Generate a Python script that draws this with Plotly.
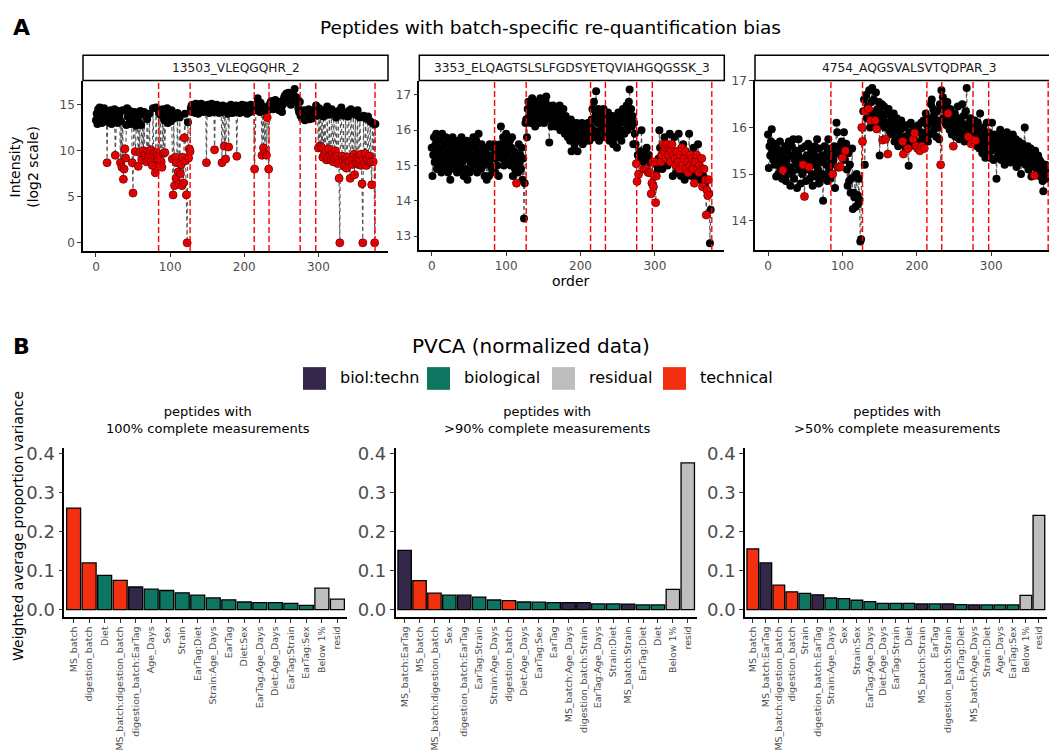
import plotly.graph_objects as go

W, H = 1049, 751
def fx(px): return px / W
def fy(py): return 1 - py / H

# ---------------- Panel A data ----------------
peptides = ["13503_VLEQGQHR_2", "3353_ELQAGTSLSLFGDSYETQVIAHGQGSSK_3", "4754_AQGSVALSVTQDPAR_3"]
batch_boundaries = [84.5, 127, 213.5, 233.5, 275.5, 296.5, 376.5]

pep1_intensity = [
    13.3, 14.0, 12.9, 14.5, 13.8, 14.7, 13.5, 14.2, 13.0, 14.4,
    13.9, 14.6, 13.2, 14.1, 13.7, 8.7, 14.3, 13.1, 14.0, 13.6,
    14.4, 12.9, 13.8, 14.2, 13.4, 14.5, 9.5, 13.9, 14.1, 13.0,
    14.3, 13.6, 14.0, 8.7, 13.2, 8.2, 14.4, 6.9, 8.0, 10.2,
    9.2, 12.8, 14.6, 13.7, 14.1, 13.0, 14.3, 12.9, 13.6, 8.7,
    5.4, 13.8, 14.2, 9.9, 12.7, 13.5, 14.0, 8.3, 13.1, 9.8,
    14.3, 12.8, 9.0, 13.9, 10.0, 14.2, 9.5, 9.7, 8.8, 13.4,
    9.9, 9.2, 14.0, 9.6, 10.1, 8.9, 8.4, 14.6, 9.5, 9.8,
    7.6, 14.7, 9.8, 9.3, 9.0, 14.1, 8.4, 13.9, 8.8, 8.2,
    14.5, 9.7, 13.3, 9.8, 14.2, 13.6, 14.6, 13.0, 14.3, 13.8,
    14.0, 13.2, 14.4, 9.1, 5.2, 13.5, 6.2, 9.3, 7.0, 8.7,
    14.1, 7.7, 6.4, 13.6, 7.5, 8.5, 6.2, 9.3, 6.5, 11.4,
    14.0, 8.9, 5.2, 0.0, 13.1, 9.2, 10.2, 9.9, 14.6, 14.9,
    14.2, 15.0, 14.5, 14.8, 14.1, 15.1, 14.4, 14.7, 14.0, 14.9,
    14.6, 14.3, 15.1, 14.5, 14.8, 14.2, 14.9, 14.4, 14.7, 8.7,
    14.3, 15.0, 14.6, 14.1, 14.8, 14.4, 15.1, 14.5, 14.2, 14.9,
    10.1, 14.6, 14.3, 15.0, 14.4, 14.7, 14.1, 14.8, 14.5, 14.2,
    8.7, 14.9, 14.3, 10.5, 14.6, 9.1, 14.4, 14.8, 14.0, 10.4,
    14.7, 14.3, 15.0, 14.5, 14.1, 14.8, 14.4, 14.6, 14.2, 14.9,
    9.4, 14.5, 14.3, 14.8, 14.1, 14.6, 14.4, 15.0, 14.2, 14.7,
    14.5, 14.3, 14.9, 14.6, 14.0, 14.8, 14.4, 14.7, 14.2, 15.0,
    14.5, 14.3, 14.8, 14.6, 8.0, 14.4, 15.0, 14.7, 15.7, 14.5,
    14.9, 14.2, 15.2, 14.6, 9.5, 14.8, 10.3, 14.3, 9.7, 14.7,
    9.5, 13.6, 14.4, 8.0, 15.0, 14.6, 15.3, 14.8, 15.4, 14.5,
    15.1, 14.7, 15.5, 14.9, 15.2, 14.6, 15.0, 14.4, 14.8, 15.3,
    14.7, 14.2, 15.0, 15.5, 15.8, 16.0, 15.6, 16.2, 15.4, 15.9,
    16.3, 15.2, 15.7, 15.0, 15.9, 16.1, 15.5, 16.0, 16.7, 15.3,
    15.8, 15.4, 15.6, 14.6, 14.2, 15.3, 13.8, 14.3, 13.5, 14.1,
    13.7, 14.4, 13.3, 14.0, 13.6, 14.2, 13.9, 14.5, 13.4, 14.1,
    13.8, 14.3, 13.5, 14.0, 13.7, 14.4, 14.1, 14.9, 14.3, 13.8,
    10.3, 14.6, 10.5, 14.0, 10.4, 14.4, 9.3, 13.7, 9.6, 14.2,
    9.8, 9.0, 14.8, 9.2, 10.2, 13.9, 9.5, 9.0, 14.5, 9.7,
    8.8, 14.1, 9.2, 10.0, 13.6, 9.4, 8.6, 14.3, 7.0, 0.0,
    14.2, 14.7, 9.4, 9.0, 13.8, 8.3, 9.1, 14.0, 8.1, 9.3,
    13.7, 14.3, 8.8, 7.0, 14.5, 9.0, 8.5, 14.1, 9.6, 7.4,
    13.9, 8.7, 9.3, 14.4, 8.5, 9.1, 13.6, 9.6, 8.4, 6.4,
    0.0, 13.8, 8.6, 9.7, 13.5, 8.4, 9.1, 13.7, 8.7, 9.4,
    13.2, 8.8, 6.3, 13.0, 8.8, 12.9, 0.0, 12.9,
]
pep1_requant = [
    15, 26, 33, 35, 37, 38, 39, 40, 49, 50, 53, 57, 59, 62, 64, 66, 67, 68,
    70, 71, 73, 74, 75, 76, 78, 79, 80, 82, 83, 84, 86, 88, 89, 91, 93,
    103, 104, 106, 107, 108, 109, 111, 112, 114, 115, 116, 117, 118, 119,
    121, 122, 123, 125, 126, 127, 149, 160, 170, 173, 175, 179, 190,
    214, 224, 226, 228, 230, 231, 233,
    300, 302, 304, 306, 308, 310, 311, 313, 314, 316, 317, 319, 320, 322,
    323, 325, 326, 328, 329, 332, 333, 335, 336, 338, 339, 342, 343, 345,
    346, 348, 349, 351, 352, 354, 355, 357, 358, 359, 360, 362, 363, 365,
    366, 368, 369, 371, 372, 374, 376,
]

pep2_intensity = [
    15.5, 14.7, 15.3, 15.8, 15.1, 15.6, 15.9, 14.9, 15.4, 15.2,
    15.7, 15.0, 15.5, 14.8, 15.9, 15.3, 15.1, 15.6, 14.9, 15.8,
    15.2, 15.4, 14.8, 15.7, 15.0, 14.6, 15.5, 15.3, 15.8, 15.1,
    14.9, 15.6, 15.2, 15.4, 14.8, 15.7, 15.0, 15.5, 15.3, 14.9,
    15.8, 15.1, 15.6, 14.7, 15.2, 15.4, 14.9, 15.7, 14.6, 15.3,
    15.5, 14.8, 15.1, 15.6, 15.3, 14.9, 15.8, 15.2, 15.5, 15.0,
    15.7, 14.8, 15.4, 15.9, 15.1, 15.3, 14.9, 15.6, 15.2, 15.0,
    15.4, 14.7, 15.2, 15.5, 14.6, 15.1, 15.3, 14.7, 15.6, 15.0,
    15.2, 14.9, 15.5, 15.3, 15.6, 14.8, 15.2, 15.4, 15.0, 15.5,
    14.7, 15.3, 15.6, 16.1, 15.4, 15.2, 15.8, 15.0, 15.5, 15.7,
    15.9, 15.3, 15.6, 15.1, 15.4, 15.7, 15.0, 15.5, 15.8, 14.7,
    15.2, 15.4, 14.9, 15.0, 14.5, 15.3, 14.8, 15.6, 15.1, 15.3,
    14.9, 15.5, 14.6, 15.2, 13.5, 14.5, 16.2, 16.3, 15.8, 16.6,
    16.8, 16.4, 16.7, 16.2, 16.6, 16.9, 16.3, 16.5, 16.7, 16.1,
    16.4, 16.8, 16.3, 16.6, 16.2, 16.5, 16.9, 16.4, 16.7, 16.3,
    16.6, 16.2, 16.5, 16.8, 16.95, 16.4, 16.7, 16.3, 15.65, 16.5,
    16.6, 16.1, 16.4, 16.7, 16.2, 16.5, 16.3, 16.1, 16.6, 16.4,
    16.2, 16.5, 16.7, 16.0, 16.3, 16.4, 16.1, 16.6, 16.2, 15.9,
    16.4, 16.1, 16.3, 15.8, 16.2, 16.0, 15.7, 16.3, 15.4, 16.1,
    15.9, 16.2, 15.6, 16.0, 15.8, 16.2, 15.4, 16.1, 15.9, 15.7,
    16.1, 15.8, 16.2, 15.6, 16.0, 15.9, 16.1, 15.7, 16.0, 15.8,
    16.2, 15.9, 15.7, 16.1, 15.9, 16.3, 16.6, 16.0, 16.8, 15.8,
    16.4, 17.1, 15.9, 16.2, 16.6, 15.7, 16.3, 16.0, 16.5, 15.8,
    16.2, 16.6, 15.9, 16.1, 16.4, 15.8, 16.2, 16.5, 16.0, 15.7,
    16.3, 16.1, 15.9, 16.4, 15.6, 16.2, 16.0, 15.8, 16.3, 15.5,
    16.1, 16.5, 15.9, 16.2, 16.4, 15.7, 16.0, 16.6, 16.3, 15.9,
    16.5, 16.2, 16.7, 16.0, 16.4, 16.8, 17.15, 16.3, 16.6, 16.1,
    16.4, 15.6, 16.2, 15.9, 15.6, 15.05, 14.55, 15.3, 14.75, 15.2,
    15.4, 15.2, 16.0, 15.3, 15.1, 14.9, 15.2, 15.4, 14.9, 15.5,
    15.2, 14.8, 15.3, 14.8, 15.1, 14.2, 14.5, 15.1, 14.4, 14.7,
    15.1, 13.95, 14.7, 15.0, 14.9, 15.2, 16.0, 15.5, 15.1, 15.3,
    14.9, 15.6, 15.4, 15.8, 15.5, 15.2, 15.6, 15.0, 15.3, 15.5,
    15.9, 15.1, 15.4, 15.6, 14.7, 15.3, 15.8, 15.2, 15.0, 14.8,
    15.4, 15.1, 15.9, 14.9, 15.3, 14.7, 15.5, 15.0, 15.6, 15.2,
    14.6, 15.4, 14.9, 15.3, 15.1, 14.8, 15.9, 15.0, 15.3, 14.7,
    15.2, 14.9, 15.5, 14.5, 15.1, 14.7, 15.3, 14.9, 15.6, 14.8,
    15.0, 14.6, 14.9, 15.2, 14.4, 14.7, 14.9, 14.5, 14.6, 13.6,
    14.3, 14.15, 14.6, 14.2, 12.8, 13.75,
]
pep2_requant = [
    114, 275, 276, 278, 285, 288, 291, 293, 295, 296, 297, 298, 299, 300,
    301, 302, 308, 309, 311, 312, 314, 315, 316, 318, 319, 321, 322, 323,
    325, 327, 328, 330, 331, 333, 334, 336, 337, 339, 341, 342, 344, 345,
    347, 348, 350, 351, 353, 354, 356, 357, 359, 360, 362, 363, 364, 366,
    368, 369, 370, 371, 372,
]

pep3_intensity = [
    15.85, 15.13, 15.6, 15.4, 15.7, 15.96, 15.5, 15.3, 15.65, 15.2,
    15.4, 14.95, 15.55, 15.25, 15.0, 15.5, 15.7, 15.1, 15.35, 14.9,
    15.08, 15.45, 15.2, 15.6, 14.85, 15.3, 15.5, 15.0, 15.7, 15.15,
    14.75, 15.4, 15.6, 15.05, 15.75, 14.9, 15.3, 15.5, 15.2, 14.7,
    15.45, 15.75, 15.1, 15.35, 14.8, 15.55, 15.0, 15.2, 15.3, 14.52,
    15.6, 14.85, 15.4, 15.1, 15.65, 15.15, 14.9, 15.3, 15.5, 15.0,
    14.75, 15.45, 15.2, 15.6, 14.95, 15.35, 15.75, 15.1, 14.8, 15.55,
    15.25, 14.9, 15.4, 15.0, 14.43, 15.3, 15.6, 14.95, 15.2, 15.45,
    14.85, 15.75, 15.1, 15.35, 14.9, 15.55, 15.2, 15.0, 15.3, 15.6,
    14.7, 15.45, 16.1, 15.9, 15.15, 15.15, 15.6, 15.15, 15.4, 15.7,
    15.35, 15.5, 15.9, 15.3, 15.5, 15.65, 15.1, 14.75, 15.45, 14.85,
    15.2, 14.6, 14.9, 15.55, 14.25, 14.6, 14.5, 14.95, 14.3, 15.0,
    14.55, 14.35, 14.9, 14.45, 13.55, 13.6, 16.0, 15.7, 16.35, 16.6,
    15.2, 16.35, 16.7, 16.2, 16.45, 16.4, 16.8, 16.0, 16.15, 16.55,
    16.85, 16.3, 16.6, 16.1, 16.15, 16.75, 15.97, 16.4, 16.2, 16.55,
    15.4, 16.3, 16.05, 16.5, 15.73, 16.2, 16.45, 16.0, 15.75, 16.3,
    16.1, 15.43, 16.4, 16.0, 15.9, 16.25, 15.85, 16.15, 15.95, 16.3,
    15.7, 16.05, 15.85, 16.2, 15.9, 15.6, 16.1, 15.8, 15.95, 16.15,
    15.75, 15.7, 15.43, 16.0, 15.8, 15.55, 16.05, 15.65, 15.55, 15.18,
    15.9, 15.6, 16.1, 15.75, 15.85, 15.75, 16.0, 15.88, 15.65, 15.6,
    15.95, 15.55, 16.05, 15.7, 15.5, 15.9, 16.1, 15.6, 15.8, 16.15,
    15.55, 15.75, 16.3, 15.9, 16.05, 15.7, 16.2, 15.85, 16.1, 16.5,
    16.6, 16.2, 16.4, 15.95, 16.3, 16.1, 15.8, 16.35, 16.0, 16.15,
    15.75, 16.5, 15.2, 16.8, 16.4, 16.65, 16.2, 16.5, 16.1, 16.35,
    16.05, 16.55, 16.3, 16.2, 15.95, 16.4, 16.1, 15.85, 16.25, 15.6,
    16.0, 16.3, 15.8, 16.15, 15.9, 16.45, 16.05, 15.75, 16.2, 15.95,
    16.1, 16.5, 15.85, 16.25, 15.7, 16.0, 16.35, 16.85, 15.9, 15.8,
    16.1, 15.75, 16.2, 15.65, 15.9, 16.0, 15.7, 15.85, 16.15, 15.72,
    15.95, 15.6, 16.1, 15.8, 15.55, 16.3, 15.7, 15.9, 15.45, 16.0,
    15.6, 15.85, 15.35, 15.75, 16.1, 15.5, 15.9, 15.65, 15.35, 15.8,
    15.5, 16.1, 15.7, 15.3, 15.85, 15.55, 15.75, 14.9, 15.65, 15.4,
    15.8, 15.5, 15.95, 15.3, 15.7, 15.6, 15.85, 15.45, 15.2, 15.75,
    15.55, 15.9, 15.35, 15.7, 15.5, 15.8, 15.25, 15.6, 15.45, 15.85,
    15.3, 15.65, 15.5, 15.75, 15.15, 15.55, 15.4, 15.7, 15.25, 15.6,
    15.0, 15.45, 15.65, 15.3, 15.55, 16.0, 15.2, 15.5, 15.35, 15.6,
    15.1, 15.45, 15.25, 15.55, 14.95, 15.4, 15.3, 15.15, 14.97, 15.5,
    15.2, 15.35, 15.05, 15.4, 15.15, 15.3, 14.95, 15.25, 15.1, 14.85,
    14.63, 15.15, 15.0, 15.2, 14.9, 15.1, 15.05, 15.15,
]
pep3_requant = [
    20, 47, 49, 55, 87, 94, 95, 97, 100, 104, 126, 127, 131, 135, 138, 144,
    146, 154, 158, 161, 181, 182, 188, 195, 197, 199, 201, 204, 207, 210,
    232, 242, 249, 269, 273, 279, 358,
]

# ---------------- Panel B data ----------------
group_colors = {"biol:techn": "#33284A", "biological": "#0E7560",
                "residual": "#BEBEBE", "technical": "#F2300F"}

pvca100_effects = ["MS_batch", "digestion_batch", "Diet", "MS_batch:digestion_batch",
                   "digestion_batch:EarTag", "Age_Days", "Sex", "Strain", "EarTag:Diet",
                   "Strain:Age_Days", "EarTag", "Diet:Sex", "EarTag:Age_Days",
                   "Diet:Age_Days", "EarTag:Strain", "EarTag:Sex", "Below 1%", "resid"]
pvca100_values = [0.261, 0.120, 0.088, 0.075, 0.058, 0.0525, 0.049, 0.043, 0.037,
                  0.030, 0.025, 0.0195, 0.018, 0.018, 0.016, 0.011, 0.055, 0.027]
pvca100_groups = ["technical", "technical", "biological", "technical", "biol:techn",
                  "biological", "biological", "biological", "biological", "biological",
                  "biological", "biological", "biological", "biological", "biological",
                  "biological", "residual", "residual"]

pvca90_effects = ["MS_batch:EarTag", "MS_batch", "MS_batch:digestion_batch", "Sex",
                  "digestion_batch:EarTag", "EarTag:Strain", "Strain:Age_Days",
                  "digestion_batch", "Diet:Age_Days", "EarTag:Sex", "EarTag",
                  "MS_batch:Age_Days", "digestion_batch:Strain", "EarTag:Age_Days",
                  "Strain:Diet", "MS_batch:Strain", "EarTag:Diet", "Diet", "Below 1%", "resid"]
pvca90_values = [0.152, 0.0746, 0.042, 0.037, 0.037, 0.032, 0.0246, 0.023, 0.0195,
                 0.019, 0.018, 0.018, 0.018, 0.0145, 0.0145, 0.014, 0.012, 0.012,
                 0.052, 0.377]
pvca90_groups = ["biol:techn", "technical", "technical", "biological", "biol:techn",
                 "biological", "biological", "technical", "biological", "biological",
                 "biological", "biol:techn", "biol:techn", "biological", "biological",
                 "biol:techn", "biological", "biological", "residual", "residual"]

pvca50_effects = ["MS_batch", "MS_batch:EarTag", "MS_batch:digestion_batch",
                  "digestion_batch", "Strain", "digestion_batch:EarTag", "Strain:Age_Days",
                  "Sex", "Strain:Sex", "EarTag:Age_Days", "Diet:Age_Days", "EarTag:Strain",
                  "Diet", "MS_batch:Strain", "EarTag", "digestion_batch:Strain",
                  "EarTag:Diet", "MS_batch:Age_Days", "Strain:Diet", "Age_Days",
                  "EarTag:Sex", "Below 1%", "resid"]
pvca50_values = [0.156, 0.120, 0.0627, 0.0457, 0.0416, 0.038, 0.0297, 0.028, 0.024,
                 0.0203, 0.016, 0.016, 0.016, 0.0145, 0.0145, 0.0145, 0.0127, 0.012,
                 0.012, 0.012, 0.012, 0.0365, 0.242]
pvca50_groups = ["technical", "biol:techn", "technical", "technical", "biological",
                 "biol:techn", "biological", "biological", "biological", "biological",
                 "biological", "biological", "biological", "biol:techn", "biological",
                 "biol:techn", "biological", "biol:techn", "biological", "biological",
                 "biological", "residual", "residual"]

pvca_titles = ["peptides with<br>100% complete measurements",
               "peptides with<br>>90% complete measurements",
               "peptides with<br>>50% complete measurements"]
legend_groups = ["biol:techn", "biological", "residual", "technical"]

# ---------------- Figure ----------------
fig = go.Figure()
FONT = "DejaVu Sans"
TICKGREY = "#4D4D4D"

a_panels = [
    (pep1_intensity, pep1_requant, "x", "y"),
    (pep2_intensity, pep2_requant, "x2", "y2"),
    (pep3_intensity, pep3_requant, "x3", "y3"),
]
for vals, req, xa, ya in a_panels:
    orders = list(range(len(vals)))
    reqset = set(req)
    fig.add_trace(go.Scatter(x=orders, y=vals, mode="lines", xaxis=xa, yaxis=ya,
                             line=dict(color="#555555", width=1.1, dash="4px,3px"),
                             showlegend=False, hoverinfo="skip"))
    bx = [o for o in orders if o not in reqset]
    fig.add_trace(go.Scatter(x=bx, y=[vals[o] for o in bx], mode="markers",
                             xaxis=xa, yaxis=ya, showlegend=False,
                             marker=dict(color="black", size=8, line=dict(width=0))))
    rx = [o for o in orders if o in reqset]
    ry = [vals[o] for o in rx]
    fig.add_trace(go.Scatter(x=rx, y=ry, mode="markers",
                             xaxis=xa, yaxis=ya, showlegend=False,
                             marker=dict(color="#FF0000", size=8,
                                         line=dict(color="#5A0000", width=0.8))))
    fig.add_trace(go.Scatter(x=rx, y=ry, mode="markers",
                             xaxis=xa, yaxis=ya, showlegend=False, hoverinfo="skip",
                             marker=dict(symbol="asterisk-open", size=5, color="#B80000",
                                         line=dict(color="#B80000", width=0.6))))

b_panels = [
    (pvca100_effects, pvca100_values, pvca100_groups, "x4", "y4"),
    (pvca90_effects, pvca90_values, pvca90_groups, "x5", "y5"),
    (pvca50_effects, pvca50_values, pvca50_groups, "x6", "y6"),
]
for eff, vals, grp, xa, ya in b_panels:
    fig.add_trace(go.Bar(x=eff, y=vals, xaxis=xa, yaxis=ya, width=0.9,
                         marker=dict(color=[group_colors[g] for g in grp],
                                     line=dict(color="black", width=1.3)),
                         showlegend=False))

axis_common = dict(showline=True, linecolor="black", linewidth=1.6, ticks="outside",
                   ticklen=4, tickwidth=1.2, tickcolor="#333333", showgrid=False,
                   zeroline=False, mirror=False)

a_geom = [  # (x0px, x1px, y0px, y1px, xrange, yrange, yticks)
    (83, 388, 75.7, 248.3, [-17.5, 394], [-0.89, 17.6], [0, 5, 10, 15]),
    (419.3, 724.3, 76, 247.3, [-16.7, 393.3], [12.61, 17.39], [13, 14, 15, 16, 17]),
    (755, 1049, 75, 247.3, [-17.5, 377.6], [13.37, 17.02], [14, 15, 16, 17]),
]
layout = {}
for i, (x0, x1, y0, y1, xr, yr, yt) in enumerate(a_geom):
    n = "" if i == 0 else str(i + 1)
    layout["xaxis" + n] = dict(axis_common, domain=[fx(x0), min(1.0, fx(x1))], range=xr,
                               anchor="y" + n, tickvals=[0, 100, 200, 300],
                               tickfont=dict(family=FONT, size=12, color=TICKGREY))
    layout["yaxis" + n] = dict(axis_common, domain=[fy(y1), fy(y0)], range=yr,
                               anchor="x" + n, tickvals=yt,
                               tickfont=dict(family=FONT, size=12, color=TICKGREY))

b_geom = [(64.3, 346.7), (395.7, 696.7), (745, 1046.7)]
for i, ((x0, x1), (eff, vals, grp, xa, ya)) in enumerate(zip(b_geom, b_panels)):
    n = str(i + 4)
    layout["xaxis" + n] = dict(axis_common, domain=[fx(x0), fx(x1)], type="category",
                               range=[-0.6, len(eff) - 0.4], anchor="y" + n,
                               tickangle=-90,
                               tickfont=dict(family=FONT, size=9.5, color=TICKGREY))
    layout["yaxis" + n] = dict(axis_common, domain=[fy(619), fy(448.3)],
                               range=[-0.0185, 0.4145], anchor="x" + n,
                               tickvals=[0, 0.1, 0.2, 0.3, 0.4],
                               ticktext=["0.0", "0.1", "0.2", "0.3", "0.4"],
                               tickfont=dict(family=FONT, size=18, color=TICKGREY))

fig.update_layout(**layout)

shapes = []
annotations = []

# batch boundaries
for i in range(3):
    n = "" if i == 0 else str(i + 1)
    for b in batch_boundaries:
        shapes.append(dict(type="line", xref="x" + n, yref="y" + n + " domain",
                           x0=b, x1=b, y0=0, y1=1,
                           line=dict(color="#FF0000", width=1.4, dash="6px,3px")))

# strips
strip_geom = [(83, 388), (419.3, 724.3), (755, 1062)]
for (x0, x1), label in zip(strip_geom, peptides):
    shapes.append(dict(type="rect", xref="paper", yref="paper",
                       x0=fx(x0), x1=fx(x1), y0=fy(75.5), y1=fy(50),
                       line=dict(color="black", width=1.5), fillcolor="white"))
    annotations.append(dict(x=fx((x0 + x1) / 2), y=fy(62.5), xref="paper", yref="paper",
                            text=label, showarrow=False, xanchor="center", yanchor="middle",
                            font=dict(family=FONT, size=12.2, color="#1A1A1A")))

def txt(x, y, s, size, bold=False, angle=0, xanchor="center", color="black"):
    annotations.append(dict(x=fx(x), y=fy(y), xref="paper", yref="paper",
                            text=("<b>%s</b>" % s) if bold else s, showarrow=False,
                            xanchor=xanchor, yanchor="middle", textangle=angle,
                            font=dict(family=FONT, size=size, color=color)))

txt(21, 22, "A", 22, bold=True)
txt(21, 345, "B", 22, bold=True)
txt(550, 22, "Peptides with batch-specific re-quantification bias", 18.5)
txt(24, 163, "Intensity<br>(log2 scale)", 14, angle=-90)
txt(571, 279, "order", 14)
txt(531, 345, "PVCA (normalized data)", 20)
txt(18, 527, "Weighted average proportion variance", 14, angle=-90)
for cx, t in zip([207.5, 546.5, 896.5], pvca_titles):
    txt(cx, 420, t, 13)

# legend
legend_key_x = [303, 427, 552, 663]
for kx, g in zip(legend_key_x, legend_groups):
    shapes.append(dict(type="rect", xref="paper", yref="paper",
                       x0=fx(kx), x1=fx(kx + 23), y0=fy(389), y1=fy(366),
                       line=dict(width=0), fillcolor=group_colors[g]))
    txt(kx + 35, 377, g, 16, xanchor="left")

fig.update_layout(
    width=W, height=H, margin=dict(l=0, r=0, t=0, b=0),
    paper_bgcolor="white", plot_bgcolor="white",
    shapes=shapes, annotations=annotations, showlegend=False,
    bargap=0.1, font=dict(family=FONT),
)

fig.write_html("out.html", config={"displayModeBar": False},
               post_script="document.body.style.margin='0';document.body.style.overflow='hidden';")
